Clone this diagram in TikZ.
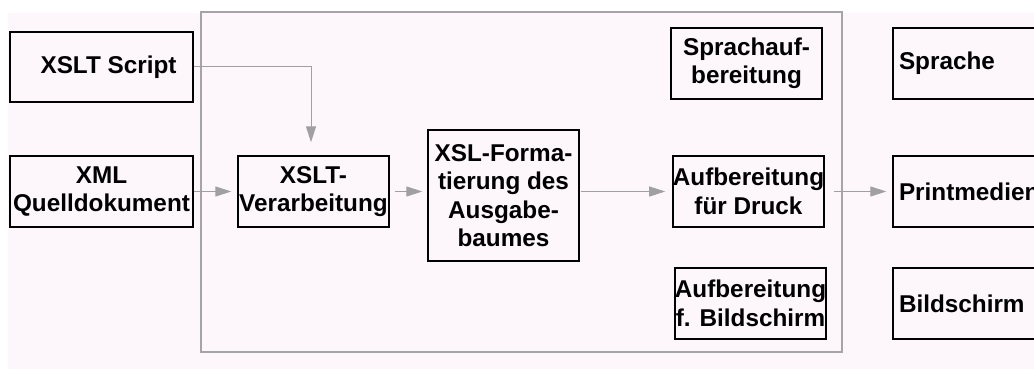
\documentclass[tikz,border=0pt]{standalone}
\usepackage{fontspec}
\setmainfont{Liberation Sans}
\usetikzlibrary{arrows.meta,positioning}

\definecolor{bgpink}{RGB}{253,247,252}
\definecolor{framegray}{RGB}{165,165,165}
\definecolor{arrowgray}{RGB}{160,160,160}

\begin{document}
\begin{tikzpicture}[x=1pt, y=-1pt,
  box/.style={draw, rectangle, line width=1.4pt, inner sep=0pt, align=center,
    font=\bfseries\fontsize{24.3}{28.5}\selectfont},
  outbox/.style={box, text width=158pt, inner xsep=6pt, align=left},
  flow/.style={draw=arrowgray, line width=1pt, -{Triangle[length=16pt,width=10pt]}}]
\useasboundingbox (0,0) rectangle (1034,369);
% Hintergrund
\fill[white] (0,0) rectangle (1034,369);
\fill[bgpink] (8,13) rectangle (1034,369);
\draw[framegray, line width=2pt] (201,12) rectangle (842,352);

% Eingaben
\node[box, minimum width=183pt, minimum height=70pt] (script) at (101.5,67) {\hspace*{14pt}XSLT Script};
\node[box, minimum width=183pt, minimum height=71pt] (xml) at (101.5,191.5) {XML\\Quelldokument};

% Verarbeitung
\node[box, minimum width=151pt, minimum height=71pt] (xslt) at (313.5,191.5) {XSLT-\\Verarbeitung};
\node[box, minimum width=151pt, minimum height=131pt] (fo) at (503.5,195.5) {XSL-Forma-\\tierung des\\Ausgabe-\\baumes};

% Aufbereitung
\node[box, minimum width=151pt, minimum height=71pt] (sprach) at (746.5,63.5) {Sprachauf-\\bereitung};
\node[box, minimum width=151pt, minimum height=71pt] (druck) at (748.5,191.5) {Aufbereitung\\für Druck};
\node[box, minimum width=151pt, minimum height=71pt] (bild) at (750.5,303.5) {Aufbereitung\\f. Bildschirm};

% Ausgaben
\node[outbox, minimum height=71pt] (sprache) at (978,63.5) {Sprache};
\node[outbox, minimum height=71pt] (print) at (978,191.5) {Printmedien};
\node[outbox, minimum height=71pt] (bildschirm) at (978,303.5) {Bildschirm};

% Verbindungen
\draw[flow, shorten >=13pt] (script.east) -| (xslt.north -| 311,0);
\draw[flow, shorten >=6pt] (xml.east) -- (xslt.west);
\draw[flow, shorten <=5pt, shorten >=5pt] (xslt.east) -- (xslt.east -| fo.west);
\draw[flow, shorten <=1pt, shorten >=7pt] (fo.east |- druck.west) -- (druck.west);
\draw[flow, shorten <=9pt, shorten >=6pt] (druck.east) -- (print.west);
\end{tikzpicture}
\end{document}
